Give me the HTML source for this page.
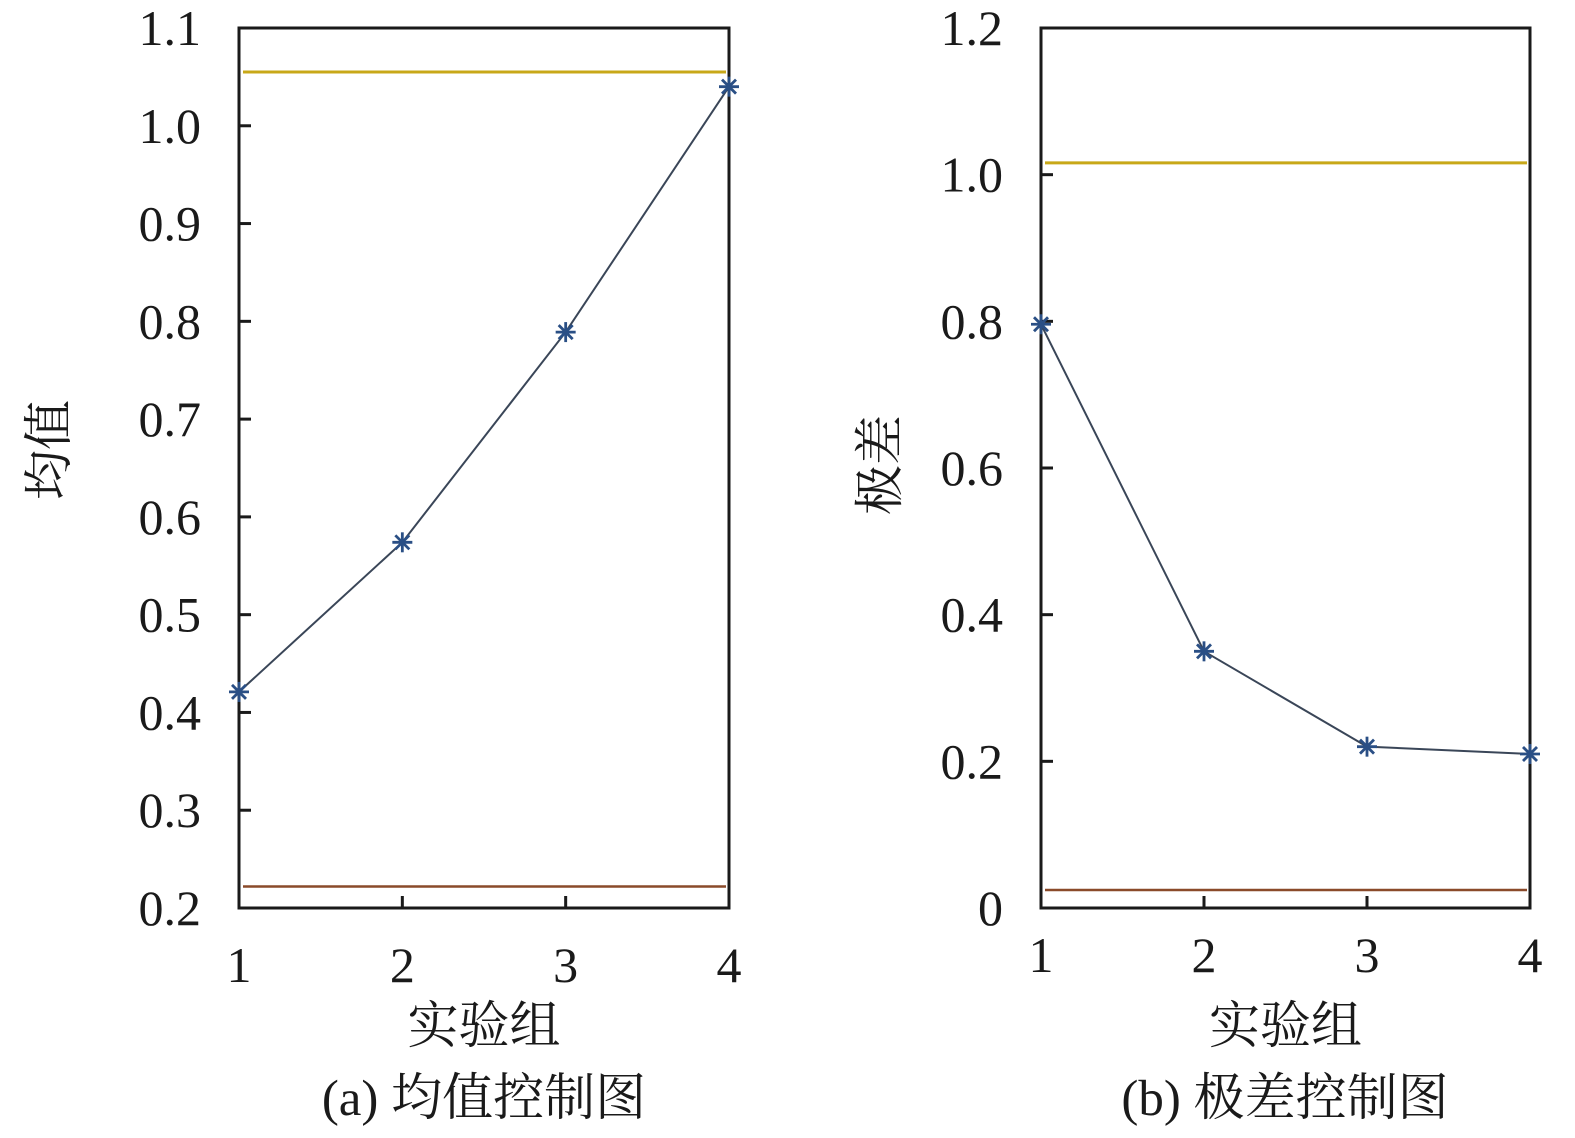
<!DOCTYPE html>
<html><head><meta charset="utf-8"><style>
html,body{margin:0;padding:0;background:#fff;width:1575px;height:1138px;overflow:hidden}
svg text{font-family:"Liberation Serif","Noto Serif CJK SC",serif;fill:#1a1a1a}
</style></head><body>
<svg id="svg" width="1575" height="1138" xmlns="http://www.w3.org/2000/svg"></svg>
<script>
const categories=[1,2,3,4];
const meanValues=[0.421,0.574,0.789,1.04];
const meanUCL=1.055, meanLCL=0.222;
const meanTicks=[0.2,0.3,0.4,0.5,0.6,0.7,0.8,0.9,1.0,1.1];
const meanTickLabels=["0.2","0.3","0.4","0.5","0.6","0.7","0.8","0.9","1.0","1.1"];
const rangeValues=[0.796,0.350,0.220,0.210];
const rangeUCL=1.016, rangeLCL=0.0245;
const rangeTicks=[0,0.2,0.4,0.6,0.8,1.0,1.2];
const rangeTickLabels=["0","0.2","0.4","0.6","0.8","1.0","1.2"];
const NS="http://www.w3.org/2000/svg";
const svg=document.getElementById('svg');
function mk(tag,attrs,parent){const e=document.createElementNS(NS,tag);for(const k in attrs)e.setAttribute(k,attrs[k]);(parent||svg).appendChild(e);return e;}
function panel(o){
  const g=mk('g',{});
  
  
  const X=v=>o.x0+(v-1)/3*(o.x1-o.x0);
  const Y=v=>o.y1-(v-o.ymin)/(o.ymax-o.ymin)*(o.y1-o.y0);
  const u=mk('line',{x1:o.x0+4,x2:o.x1-3,y1:Y(o.ucl),y2:Y(o.ucl),stroke:'#c8a818','stroke-width':3},g);
  
  
  const l=mk('line',{x1:o.x0+4,x2:o.x1-3,y1:Y(o.lcl),y2:Y(o.lcl),stroke:'#8a4a2a','stroke-width':2.5},g);
  
  
  const b=mk('rect',{x:o.x0,y:o.y0,width:o.x1-o.x0,height:o.y1-o.y0,fill:'none',stroke:'#1a1a1a','stroke-width':3},g);
  
  
  o.ticks.forEach((t,i)=>{
    mk('line',{x1:o.x0,x2:o.x0+12,y1:Y(t),y2:Y(t),stroke:'#1a1a1a','stroke-width':3},g);
    const tx=mk('text',{x:o.x0-38,y:Y(t)+17,'text-anchor':'end','font-size':50},g);
    tx.textContent=o.labels[i];
    
    
  });
  categories.forEach(c=>{
    mk('line',{x1:X(c),x2:X(c),y1:o.y1,y2:o.y1-12,stroke:'#1a1a1a','stroke-width':3},g);
    const tx=mk('text',{x:X(c),y:o.xly,'text-anchor':'middle','font-size':50},g);
    tx.textContent=c;
    
    
  });
  const pts=o.values.map((v,i)=>X(categories[i])+','+Y(v)).join(' ');
  const pl=mk('polyline',{points:pts,fill:'none',stroke:'#3a4658','stroke-width':2},g);
  
  
  o.values.forEach((v,i)=>{
    const cx=X(categories[i]),cy=Y(v),r=10;
    const m=mk('g',{stroke:'#2a4f85','stroke-width':2.8},g);
    
    
    mk('line',{x1:cx-r,x2:cx+r,y1:cy,y2:cy},m);
    mk('line',{x1:cx,x2:cx,y1:cy-r,y2:cy+r},m);
    mk('line',{x1:cx-r*0.7,x2:cx+r*0.7,y1:cy-r*0.7,y2:cy+r*0.7},m);
    mk('line',{x1:cx-r*0.7,x2:cx+r*0.7,y1:cy+r*0.7,y2:cy-r*0.7},m);
  });
  const yt=mk('text',{x:0,y:0,'font-size':50,'text-anchor':'middle',transform:`translate(${o.ytx},${o.yty}) rotate(-90)`},g);
  yt.textContent=o.ytitle;
  
  
  const xt=mk('text',{x:(o.x0+o.x1)/2,y:o.xty,'font-size':51,'text-anchor':'middle'},g);
  xt.textContent='实验组';
  
  
  const cap=mk('text',{x:o.capx,y:1115,'font-size':51,'text-anchor':'middle'},g);
  cap.textContent=o.caption;
  
  
}
panel({name:'mean-control-chart',x0:239,x1:729,y0:28,y1:908,ymin:0.2,ymax:1.1,ticks:meanTicks,labels:meanTickLabels,values:meanValues,ucl:meanUCL,lcl:meanLCL,xly:982,xty:1043,ytitle:'均值',ytx:66,yty:450,caption:'(a) 均值控制图',capx:484});
panel({name:'range-control-chart',x0:1041,x1:1530,y0:28,y1:908,ymin:0,ymax:1.2,ticks:rangeTicks,labels:rangeTickLabels,values:rangeValues,ucl:rangeUCL,lcl:rangeLCL,xly:972,xty:1043,ytitle:'极差',ytx:897,yty:465,caption:'(b) 极差控制图',capx:1285});
</script>
</body></html>
